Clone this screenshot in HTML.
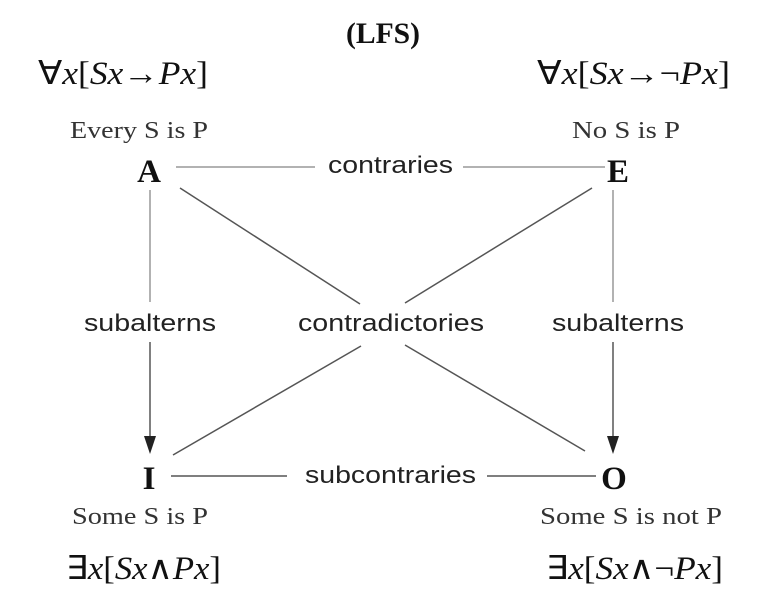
<!DOCTYPE html>
<html><head><meta charset="utf-8"><style>
html,body{margin:0;padding:0;background:#fff;}
svg{display:block}
</style></head><body>
<svg width="772" height="612" viewBox="0 0 772 612" xmlns="http://www.w3.org/2000/svg">
<text x="346" y="43" textLength="74" lengthAdjust="spacingAndGlyphs" font-family="Liberation Serif, serif" font-weight="bold" font-size="30" fill="#111">(LFS)</text>
<g font-family="Liberation Serif, serif" font-size="33" fill="#111" lengthAdjust="spacingAndGlyphs">
<text x="38" y="84" textLength="170" lengthAdjust="spacingAndGlyphs">∀<tspan font-style="italic">x</tspan>[<tspan font-style="italic">Sx</tspan>→<tspan font-style="italic">Px</tspan>]</text>
<text x="537" y="84" textLength="193" lengthAdjust="spacingAndGlyphs">∀<tspan font-style="italic">x</tspan>[<tspan font-style="italic">Sx</tspan>→¬<tspan font-style="italic">Px</tspan>]</text>
<text x="66" y="579" textLength="155" lengthAdjust="spacingAndGlyphs">∃<tspan font-style="italic">x</tspan>[<tspan font-style="italic">Sx</tspan>∧<tspan font-style="italic">Px</tspan>]</text>
<text x="546" y="579" textLength="177" lengthAdjust="spacingAndGlyphs">∃<tspan font-style="italic">x</tspan>[<tspan font-style="italic">Sx</tspan>∧¬<tspan font-style="italic">Px</tspan>]</text>
</g>
<g font-family="Liberation Serif, serif" font-size="24" fill="#333">
<text x="70" y="138" textLength="138" lengthAdjust="spacingAndGlyphs">Every S is P</text>
<text x="572" y="138" textLength="108" lengthAdjust="spacingAndGlyphs">No S is P</text>
<text x="72" y="524" textLength="136" lengthAdjust="spacingAndGlyphs">Some S is P</text>
<text x="540" y="524" textLength="182" lengthAdjust="spacingAndGlyphs">Some S is not P</text>
</g>
<g font-family="Liberation Serif, serif" font-size="33" font-weight="bold" fill="#111" text-anchor="middle">
<text x="149" y="182">A</text>
<text x="618" y="182">E</text>
<text x="149" y="489">I</text>
<text x="614" y="489">O</text>
</g>
<g font-family="Liberation Sans, sans-serif" font-size="24" fill="#222">
<text x="328" y="173" textLength="125" lengthAdjust="spacingAndGlyphs">contraries</text>
<text x="298" y="331" textLength="186" lengthAdjust="spacingAndGlyphs">contradictories</text>
<text x="84" y="331" textLength="132" lengthAdjust="spacingAndGlyphs">subalterns</text>
<text x="552" y="331" textLength="132" lengthAdjust="spacingAndGlyphs">subalterns</text>
<text x="305" y="483" textLength="171" lengthAdjust="spacingAndGlyphs">subcontraries</text>
</g>
<g stroke="#999" stroke-width="1.5" fill="none">
<line x1="176" y1="167" x2="315" y2="167"/>
<line x1="463" y1="167" x2="605" y2="167"/>
<line x1="150" y1="190" x2="150" y2="302"/>
<line x1="613" y1="190" x2="613" y2="302"/>
</g>
<g stroke="#555" stroke-width="1.5" fill="none">
<line x1="171" y1="476" x2="287" y2="476"/>
<line x1="487" y1="476" x2="596" y2="476"/>
<line x1="150" y1="342" x2="150" y2="440"/>
<line x1="613" y1="342" x2="613" y2="440"/>
<line x1="180" y1="188" x2="360" y2="304"/>
<line x1="592" y1="188" x2="405" y2="303"/>
<line x1="361" y1="346" x2="173" y2="455"/>
<line x1="405" y1="345" x2="585" y2="451"/>
</g>
<g fill="#222">
<polygon points="144,436 156,436 150,454"/>
<polygon points="607,436 619,436 613,454"/>
</g>
</svg>
</body></html>
